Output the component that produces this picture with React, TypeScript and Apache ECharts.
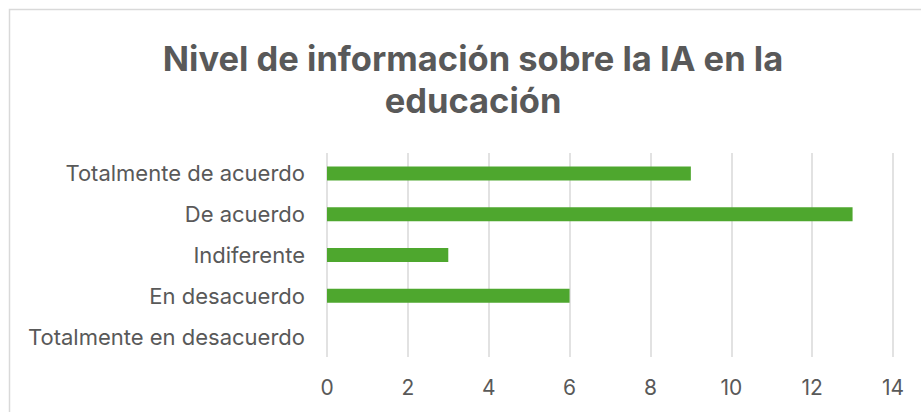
import React, { useEffect, useRef } from "react";
import * as echarts from "echarts";

const categories = [
  "Totalmente de acuerdo",
  "De acuerdo",
  "Indiferente",
  "En desacuerdo",
  "Totalmente en desacuerdo",
];
const values = [9, 13, 3, 6, 0];
const titleLines = ["Nivel de información sobre la IA en la", "educación"];

export default function App() {
  const ref = useRef<HTMLDivElement>(null);
  useEffect(() => {
    if (!ref.current) return;
    const chart = echarts.init(ref.current, undefined, { renderer: "svg" });
    chart.setOption({
      animation: false,
      backgroundColor: "#ffffff",
      graphic: [
        {
          type: "rect",
          shape: { x: 9.5, y: 9.5, width: 940, height: 440 },
          style: { fill: "none", stroke: "#d9d9d9", lineWidth: 1.5 },
          z: 0,
        },
        {
          type: "text",
          x: 473,
          y: 58,
          style: {
            text: titleLines[0],
            font: "bold 34.5px Inter, sans-serif",
            fill: "#595959",
            textAlign: "center",
            textVerticalAlign: "middle",
          },
        },
        {
          type: "text",
          x: 473,
          y: 100,
          style: {
            text: titleLines[1],
            font: "bold 34.5px Inter, sans-serif",
            fill: "#595959",
            textAlign: "center",
            textVerticalAlign: "middle",
          },
        },
      ],
      grid: { left: 327, right: 28, top: 153, bottom: 55 },
      xAxis: {
        type: "value",
        min: 0,
        max: 14,
        interval: 2,
        axisLine: { show: false },
        axisTick: { show: false },
        splitLine: { lineStyle: { color: "#d9d9d9", width: 1.5 } },
        axisLabel: {
          color: "#595959",
          fontSize: 21,
          fontFamily: "Inter, sans-serif",
          margin: 20,
        },
      },
      yAxis: {
        type: "category",
        data: categories,
        inverse: true,
        axisLine: { show: false },
        axisTick: { show: false },
        axisLabel: {
          color: "#595959",
          fontSize: 22,
          fontFamily: "Inter, sans-serif",
          margin: 22,
        },
      },
      series: [
        {
          type: "bar",
          data: values,
          barWidth: 14,
          itemStyle: { color: "#4ea72e" },
        },
      ],
    });
    return () => chart.dispose();
  }, []);
  return (
    <div style={{ position: "fixed", left: 0, top: 0, width: 921, height: 412, background: "#fff" }}>
      <div ref={ref} style={{ width: 921, height: 412 }} />
    </div>
  );
}
